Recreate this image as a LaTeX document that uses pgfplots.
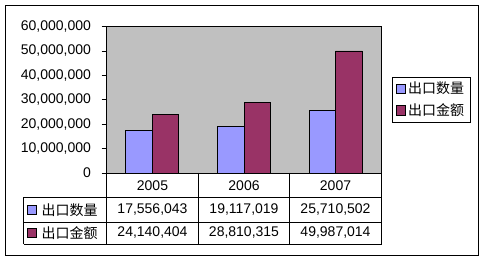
\documentclass[border=0pt]{standalone}
\usepackage{fontspec}
\setmainfont{Liberation Sans}
\newfontfamily\cjk{Noto Sans CJK SC}
\usepackage{pgfplots}
\pgfplotsset{compat=1.18}
\definecolor{qblue}{HTML}{9999FF}
\definecolor{qred}{HTML}{993366}
\definecolor{qgray}{HTML}{C0C0C0}
\begin{document}
\begin{tikzpicture}[x=1pt,y=1pt,font=\fontsize{14}{16}\selectfont]
\fill[white] (0,0) rectangle (486,262);
\draw[black, line width=1pt] (5.5,6.5) rectangle (478.5,256.5);
\begin{axis}[
  at={(106.5pt,89pt)}, anchor=south west,
  scale only axis, width=275pt, height=146.5pt,
  xmin=-0.5, xmax=2.5, ymin=0, ymax=60000000,
  axis background/.style={fill=qgray},
  axis line style={black, line width=0.8pt},
  xtick=\empty,
  ytick={0,10000000,20000000,30000000,40000000,50000000,60000000},
  ytick pos=left, tick align=outside, major tick length=5pt,
  tick style={black, line width=0.8pt},
  scaled y ticks=false,
  yticklabel style={font=\fontsize{14}{16}\selectfont, xshift=-7pt, /pgf/number format/.cd, fixed, precision=0, 1000 sep={,}, assume math mode=true},
  ybar=0pt, bar width=0.289,
  clip=false,
  legend style={at={(1.039,0.656)}, anchor=north west, draw=black, fill=white,
    font=\fontsize{14}{16}\selectfont\cjk, inner xsep=3.5pt, inner ysep=3pt, row sep=4.5pt,
    nodes={inner sep=2pt}},
  legend image code/.code={\draw[#1, line width=0.8pt] (0pt,-4.7pt) rectangle (9.5pt,4.7pt);},
]
\addplot[fill=qblue, draw=black, line width=0.8pt] coordinates {(0,17556043) (1,19117019) (2,25710502)};
\addplot[fill=qred, draw=black, line width=0.8pt] coordinates {(0,24140404) (1,28810315) (2,49987014)};
\legend{出口数量,出口金额}
\end{axis}
% data table
\draw[black, line width=0.8pt] (23.5,64.5) -- (381.5,64.5);
\draw[black, line width=0.8pt] (23.5,40) -- (381.5,40);
\draw[black, line width=0.8pt] (23.5,18) -- (381.5,18);
\draw[black, line width=0.8pt] (23.5,64.5) -- (23.5,18);
\foreach \xx in {106.5,198.5,289.5,381.5} {\draw[black, line width=0.8pt] (\xx,89) -- (\xx,18);}
\node at (152.5,76.5) {2005};
\node at (244,76.5) {2006};
\node at (335.5,76.5) {2007};
\node at (152.5,52) {17,556,043};
\node at (244,52) {19,117,019};
\node at (335.5,52) {25,710,502};
\node at (152.5,29) {24,140,404};
\node at (244,29) {28,810,315};
\node at (335.5,29) {49,987,014};
\draw[fill=qblue, line width=0.8pt] (27,47.3) rectangle (36.5,56.7);
\draw[fill=qred, line width=0.8pt] (27,24.3) rectangle (36.5,33.7);
\node[anchor=west, inner sep=0pt] at (41.5,52) {\cjk 出口数量};
\node[anchor=west, inner sep=0pt] at (41.5,29) {\cjk 出口金额};
\end{tikzpicture}
\end{document}
